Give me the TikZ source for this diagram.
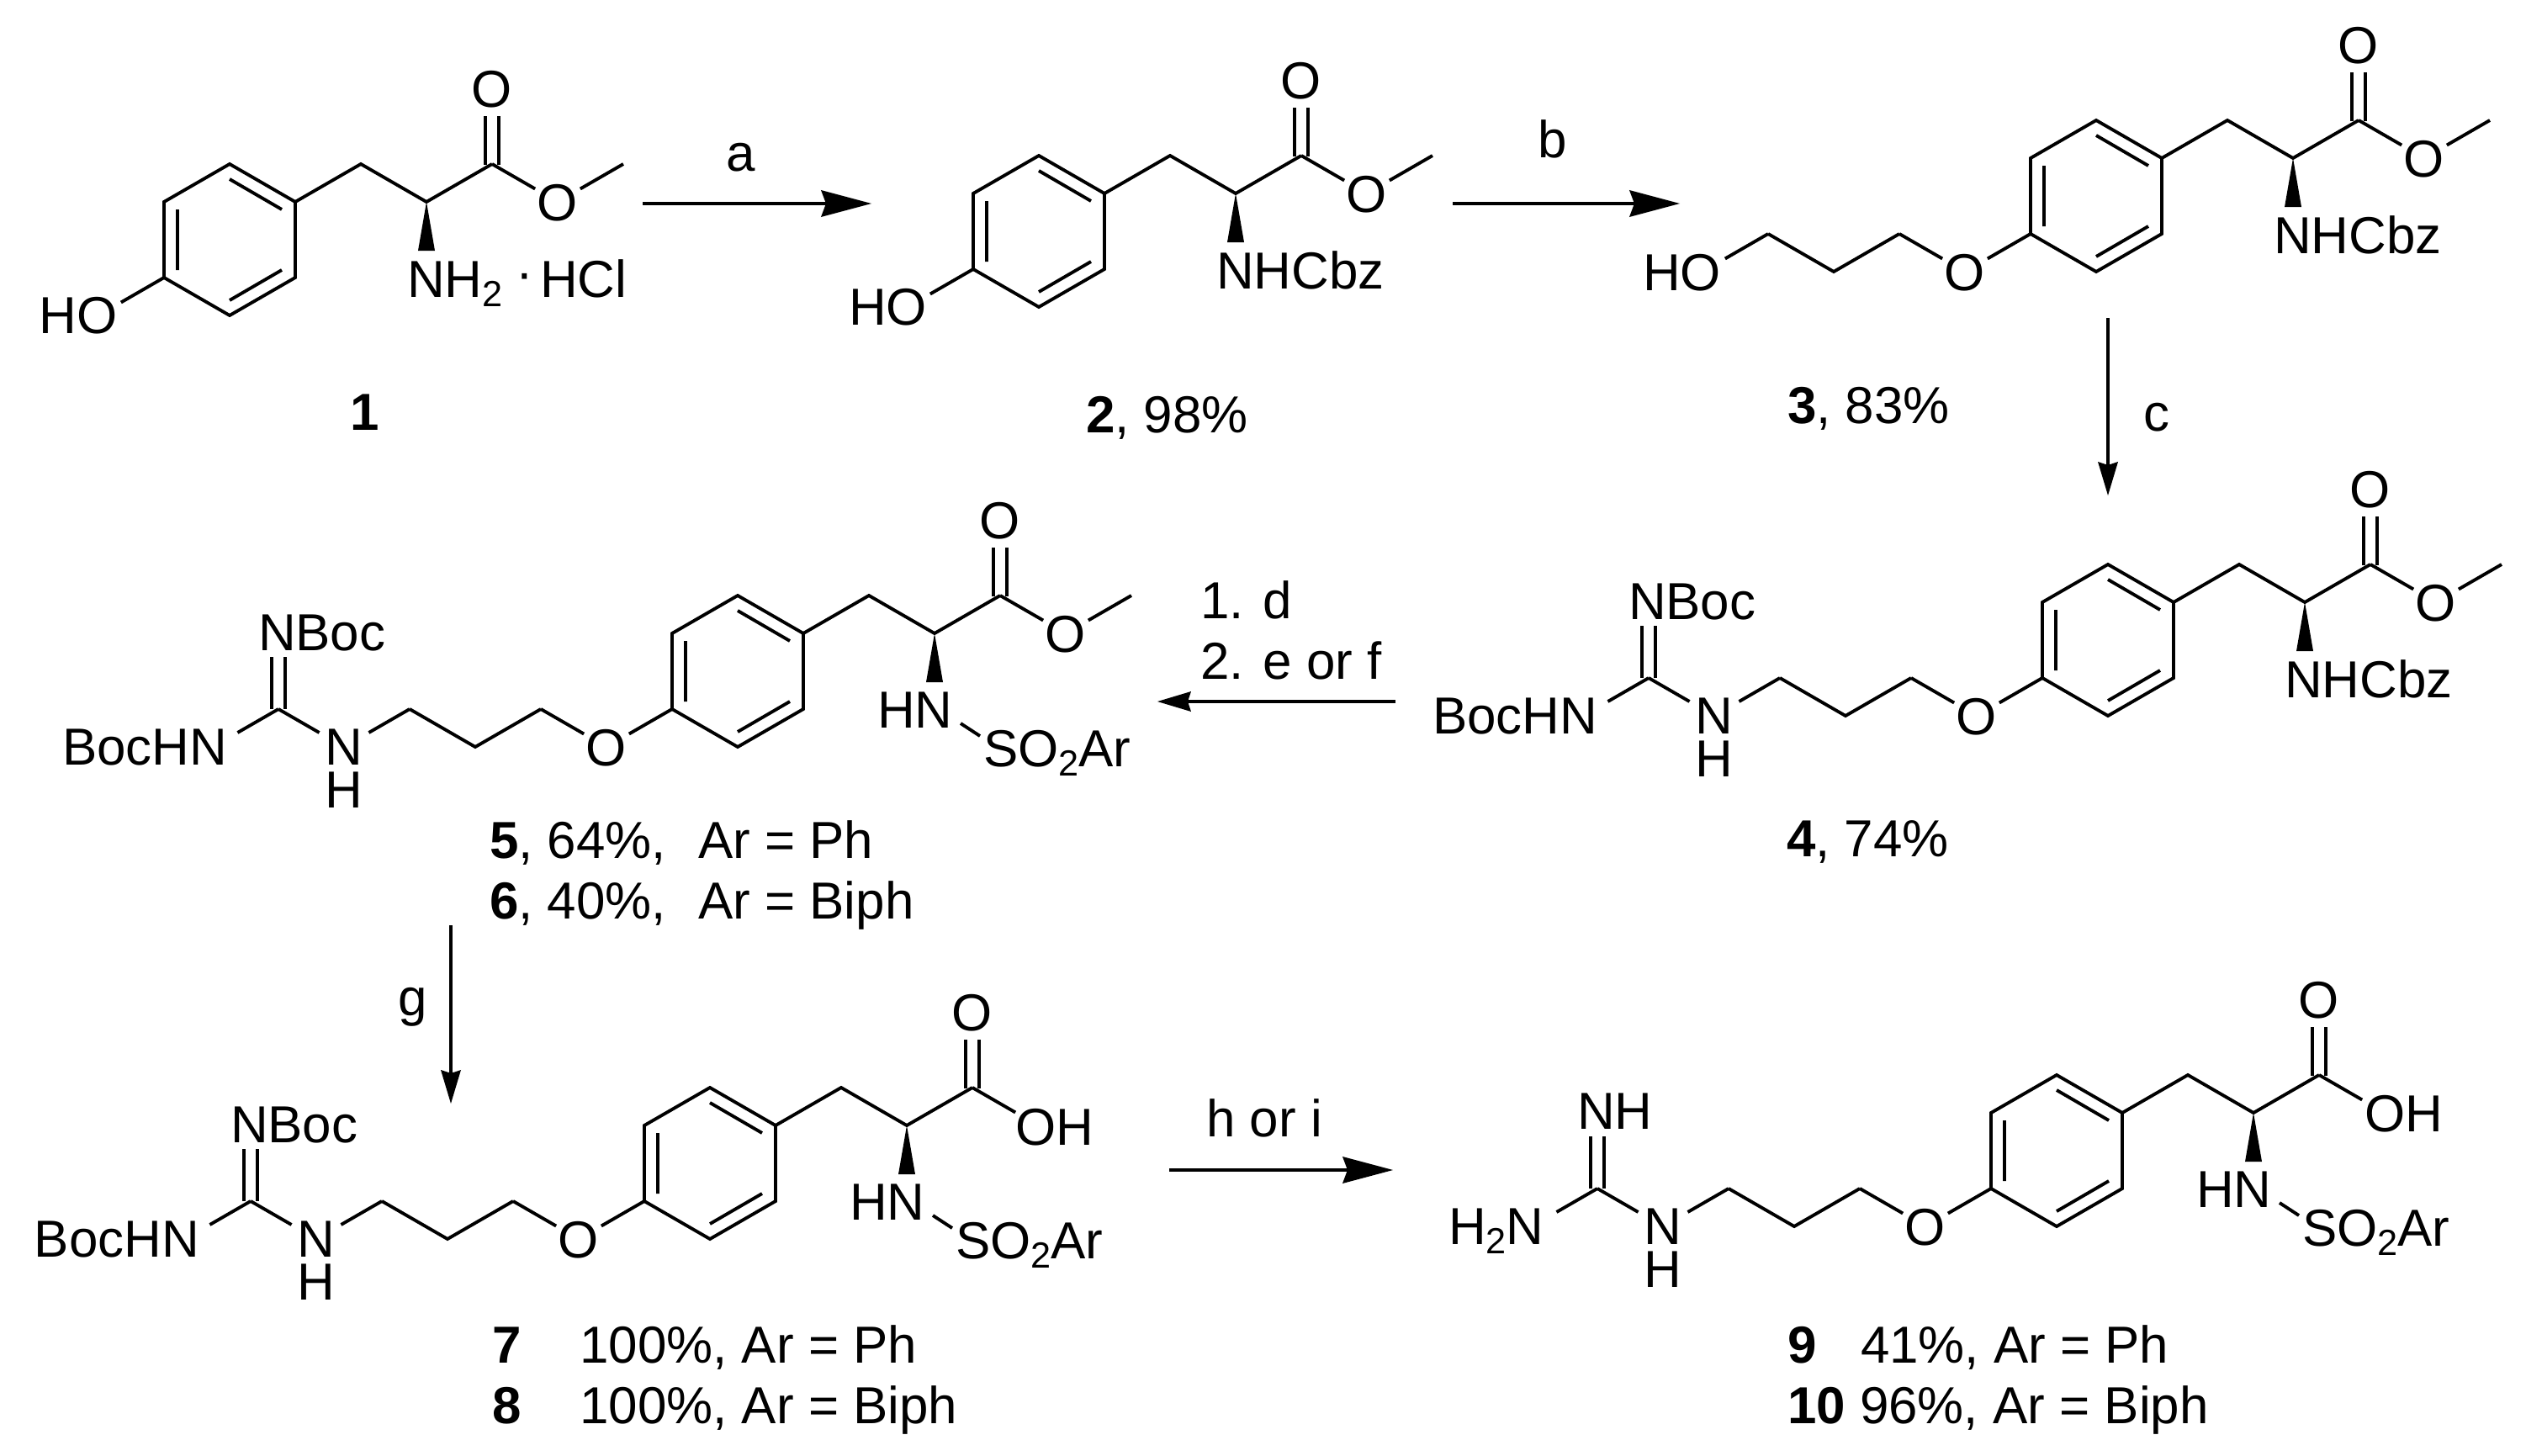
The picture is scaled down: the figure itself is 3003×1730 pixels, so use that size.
\documentclass[tikz,border=0pt]{standalone}
\usepackage{fontspec}
\setmainfont{Liberation Sans}
\usetikzlibrary{arrows.meta}
\newcommand{\subdig}[1]{\raisebox{-3.4pt}{\fontsize{12.3}{14}\selectfont #1}}
\tikzset{
  bond/.style={line width=1.1pt,line join=miter,line cap=butt},
  txt/.style={font=\fontsize{17.6}{20}\selectfont,inner sep=0pt,outer sep=0pt,anchor=base},
  txtw/.style={txt,anchor=base west},
  thickarrow/.style={line width=1.4pt,-{Stealth[length=0.6cm,width=0.32cm,inset=0.06cm,line width=0pt]}},
  thinarrow/.style={line width=1.1pt,-{Stealth[length=0.4cm,width=0.24cm,inset=0.04cm,line width=0pt]}},
  toatom/.style={shorten >=0.31cm},
  fromatom/.style={shorten <=0.31cm}
}
% aromatic ring, side chain and carbonyl; origin is the top ring atom
\newcommand{\tyrcore}{%
  \coordinate (T) at (0,0);
  \coordinate (UR) at (78,45);
  \coordinate (LR) at (78,135);
  \coordinate (B) at (0,180);
  \coordinate (LL) at (-78,135);
  \coordinate (UL) at (-78,45);
  \coordinate (Ta) at (0,18);
  \coordinate (URa) at (62,54);
  \coordinate (LRa) at (62,126);
  \coordinate (Ba) at (0,162);
  \coordinate (LLa) at (-62,126);
  \coordinate (ULa) at (-62,54);
  \coordinate (CB) at (156,0);
  \coordinate (CA) at (234,45);
  \coordinate (CO) at (312,0);
  \coordinate (OX) at (390,45);
  \coordinate (ME) at (468,0);
  \coordinate (WL) at (224,103);
  \coordinate (WR) at (244,103);
  \coordinate (DL) at (304,1);
  \coordinate (DR) at (320,1);
  \coordinate (EL) at (304,-57);
  \coordinate (ER) at (320,-57);
  \draw[bond] (T)--(UR)--(LR)--(B)--(LL)--(UL)--cycle;
  \draw[bond] (Ta)--(URa) (LLa)--(ULa) (LRa)--(Ba);
  \draw[bond] (UR)--(CB)--(CA)--(CO);
  \draw[bond] (DL)--(EL) (DR)--(ER);
  \draw[bond,toatom] (CO)--(OX);
  \fill (CA)--(WL)--(WR)--cycle;
  \node[txt] (Otop) at (312,-68) {O};
}
\newcommand{\estergroup}[1]{%
  \node[txt] (Oest) at (390,67) {O};
  \draw[bond,fromatom] (OX)--(ME);
  \node[txtw] (Nright) at (#1,158) {NHCbz};
}
\newcommand{\sulfamide}{%
  \node[txtw] (HN) at (166,157) {HN};
  \node[txtw] (SOAr) at (292,203) {SO\subdig{2}Ar};
  \coordinate (SA) at (265,152);
  \coordinate (SB) at (288,167);
  \draw[bond] (SA)--(SB);
}
\newcommand{\oxychain}{%
  \coordinate (ETH) at (-156,180);
  \coordinate (C1) at (-234,135);
  \coordinate (C2) at (-312,180);
  \coordinate (C3) at (-390,135);
  \node[txt] (Oeth) at (-156,202) {O};
  \draw[bond,toatom] (LL)--(ETH);
  \draw[bond,toatom] (C1)--(ETH);
  \draw[bond] (C1)--(C2)--(C3);
}
\newcommand{\guangroup}[4]{%
  \coordinate (NA) at (-468,180);
  \coordinate (CG) at (-546,135);
  \coordinate (NB) at (-624,180);
  \coordinate (GL) at (-554,135);
  \coordinate (GR) at (-538,135);
  \coordinate (HL) at (-554,73);
  \coordinate (HR) at (-538,73);
  \draw[bond,shorten >=0.34cm] (C3)--(NA);
  \draw[bond,shorten >=0.34cm] (CG)--(NA);
  \draw[bond,shorten >=0.34cm] (CG)--(NB);
  \draw[bond] (GL)--(HL) (GR)--(HR);
  \node[txt] (Nmid) at (-468,201) {N};
  \node[txt] (Hmid) at (-468,252) {H};
  \node[txtw] (Ntop) at (-570,#2) {#1};
  \node[txtw] (Nleft) at (#3,201) {#4};
}
\begin{document}
\begin{tikzpicture}[x=0.01cm,y=-0.01cm]
\fill[white] (0,0) rectangle (3003,1730);
\useasboundingbox (0,0) rectangle (3003,1730);

% ---- compound 1
\begin{scope}[shift={(273,195)},name prefix=m1-]
  \tyrcore
  \node[txt] (Oest) at (390,67) {O};
  \draw[bond,fromatom] (OX)--(ME);
  \node[txtw] (NH) at (211,158) {NH\subdig{2}};
  \node[txtw] (HO) at (-226,201) {HO};
  \coordinate (OH) at (-156,180);
  \draw[bond,toatom] (LL)--(OH);
\end{scope}
\node[txt] (dot) at (624,345) {·};
\node[txtw] (hcl) at (642,353) {HCl};
\node[txt,font=\fontsize{17.6}{20}\selectfont\bfseries] (lab1) at (434,511) {1};

% ---- compound 2
\begin{scope}[shift={(1235,185)},name prefix=m2-]
  \tyrcore
  \estergroup{211}
  \node[txtw] (HO) at (-226,201) {HO};
  \coordinate (OH) at (-156,180);
  \draw[bond,toatom] (LL)--(OH);
\end{scope}
\node[txtw] (lab2) at (1291,514) {\textbf{2}, 98\%};

% ---- compound 3
\begin{scope}[shift={(2492,143)},name prefix=m3-]
  \tyrcore
  \estergroup{211}
  \oxychain
  \node[txtw] (HO) at (-539,202) {HO};
  \coordinate (OH) at (-468,180);
  \draw[bond,toatom] (C3)--(OH);
\end{scope}
\node[txtw] (lab3) at (2125,503) {\textbf{3}, 83\%};

% ---- compound 4
\begin{scope}[shift={(2506,671)},name prefix=m4-]
  \tyrcore
  \estergroup{210}
  \oxychain
  \guangroup{NBoc}{65}{-803}{BocHN}
\end{scope}
\node[txtw] (lab4) at (2124,1018) {\textbf{4}, 74\%};

% ---- compound 5 / 6
\begin{scope}[shift={(877,708)},name prefix=m5-]
  \tyrcore
  \node[txt] (Oest) at (390,67) {O};
  \draw[bond,fromatom] (OX)--(ME);
  \sulfamide
  \oxychain
  \guangroup{NBoc}{65}{-803}{BocHN}
\end{scope}
\node[txtw] (lab5) at (582,1020) {\textbf{5}, 64\%,\hspace{0.62em}Ar = Ph};
\node[txtw] (lab6) at (582,1092) {\textbf{6}, 40\%,\hspace{0.62em}Ar = Biph};

% ---- compound 7 / 8
\begin{scope}[shift={(844,1293)},name prefix=m7-]
  \tyrcore
  \node[txtw] (OHr) at (363,68) {OH};
  \sulfamide
  \oxychain
  \guangroup{NBoc}{65}{-803}{BocHN}
\end{scope}
\node[txtw] (lab7) at (585,1620) {\textbf{7}\hspace{1.13em}100\%, Ar = Ph};
\node[txtw] (lab8) at (585,1692) {\textbf{8}\hspace{1.13em}100\%, Ar = Biph};

% ---- compound 9 / 10
\begin{scope}[shift={(2445,1278)},name prefix=m9-]
  \tyrcore
  \node[txtw] (OHr) at (366,67) {OH};
  \sulfamide
  \oxychain
  \guangroup{NH}{64}{-723}{H\subdig{2}N}
\end{scope}
\node[txtw] (lab9) at (2125,1620) {\textbf{9}\hspace{0.85em}41\%, Ar = Ph};
\node[txtw] (lab10) at (2125,1692) {\textbf{10} 96\%, Ar = Biph};

% ---- reaction arrows
\coordinate (a1) at (764,242);  \coordinate (a2) at (1036,242);
\coordinate (b1) at (1727,242); \coordinate (b2) at (1997,242);
\coordinate (c1) at (2506,378); \coordinate (c2) at (2506,589);
\coordinate (d1) at (1659,834); \coordinate (d2) at (1376,834);
\coordinate (g1) at (536,1100); \coordinate (g2) at (536,1312);
\coordinate (h1) at (1390,1391);\coordinate (h2) at (1656,1391);
\draw[thickarrow] (a1)--(a2);
\draw[thickarrow] (b1)--(b2);
\draw[thinarrow] (c1)--(c2);
\draw[thinarrow] (d1)--(d2);
\draw[thinarrow] (g1)--(g2);
\draw[thickarrow] (h1)--(h2);
\node[txt] (ra) at (881,203) {a};
\node[txt] (rb) at (1846,187) {b};
\node[txt] (rc) at (2564,512) {c};
\node[txtw] (rd) at (1427,735) {1. d};
\node[txtw] (re) at (1427,807) {2. e or f};
\node[txt] (rg) at (491,1207) {g};
\node[txt] (rh) at (1503,1351) {h or i};
\end{tikzpicture}
\end{document}
